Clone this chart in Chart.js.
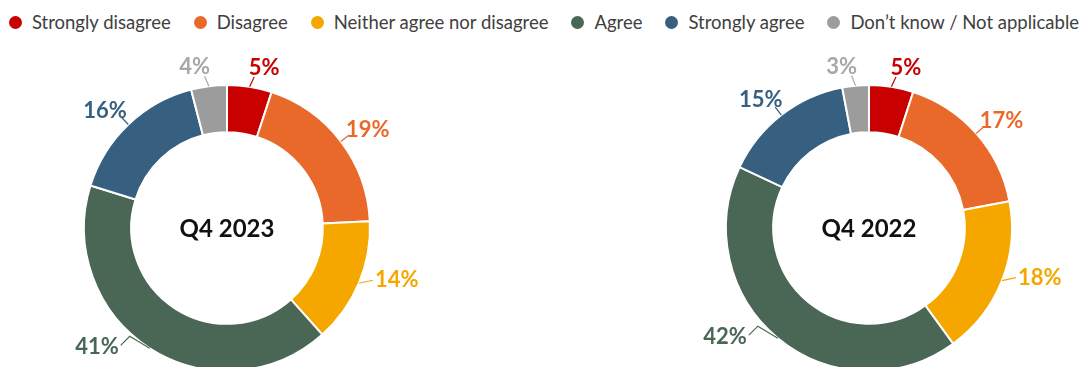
<!DOCTYPE html>
<html>
<head>
    <meta charset="utf-8">
    <title>Q4 2023 / Q4 2022</title>
    <script src="https://cdn.jsdelivr.net/npm/chart.js@4.4.1/dist/chart.umd.min.js"></script>
    <style>
        body { margin: 0; width: 1088px; height: 367px; overflow: hidden; background: #fff; position: relative; font-family: Lato, "Noto Sans", sans-serif; }
        #legend { position: absolute; left: 0; top: 11px; width: 1088px; display: flex; justify-content: center; gap: 23px; font-size: 18.5px; color: #404040; }
        #legend .item { display: flex; align-items: center; white-space: nowrap; }
        #legend .dot { width: 13px; height: 13px; border-radius: 50%; margin-right: 10px; }
        canvas { position: absolute; }
    </style>
</head>
<body>
    <div id="legend"></div>
    <canvas id="chart2023" width="440" height="380" style="left:7px; top:38px;"></canvas>
    <canvas id="chart2022" width="440" height="380" style="left:649px; top:38px;"></canvas>
    <script>
        // Respuestas por categoría
        const categorias = ['Strongly disagree', 'Disagree', 'Neither agree nor disagree', 'Agree', 'Strongly agree', 'Don\u2019t know / Not applicable'];
        const valores2023 = [5, 19, 14, 41, 16, 4];
        const valores2022 = [5, 17, 18, 42, 15, 3];

        const colores = ['#C80000', '#E9692A', '#F5A700', '#4A6756', '#365F80', '#9C9C9C'];
        const coloresTexto = ['#C80000', '#E9692A', '#F5A700', '#4A6756', '#365F80', '#A8A8A8'];

        // Leyenda común arriba
        const leyenda = document.getElementById('legend');
        categorias.forEach((cat, i) => {
            const item = document.createElement('div');
            item.className = 'item';
            const dot = document.createElement('span');
            dot.className = 'dot';
            dot.style.background = colores[i];
            item.appendChild(dot);
            item.appendChild(document.createTextNode(cat));
            leyenda.appendChild(item);
        });

        // Porcentajes fuera del anillo con su línea guía
        const etiquetas = {
            id: 'etiquetas',
            afterDatasetsDraw(chart) {
                const ctx = chart.ctx;
                const datos = chart.data.datasets[0].data;
                chart.getDatasetMeta(0).data.forEach((arc, i) => {
                    const p = arc.getProps(['x', 'y', 'startAngle', 'endAngle', 'outerRadius'], true);
                    const medio = (p.startAngle + p.endAngle) / 2;
                    const cos = Math.cos(medio), sin = Math.sin(medio);
                    const lado = cos < 0 ? -1 : 1;
                    const x0 = p.x + cos * p.outerRadius, y0 = p.y + sin * p.outerRadius;
                    const texto = datos[i] + '%';

                    ctx.save();
                    ctx.font = 'bold 22px Lato';
                    const mitad = ctx.measureText(texto).width / 2;
                    ctx.strokeStyle = coloresTexto[i];
                    ctx.fillStyle = coloresTexto[i];
                    ctx.lineWidth = 1.2;
                    ctx.textBaseline = 'middle';
                    ctx.beginPath();
                    ctx.moveTo(x0, y0);
                    let tx, ty;
                    if (sin > 0.7) {
                        // abajo: línea quebrada hacia un lado
                        ctx.lineTo(x0 + lado * 20, y0 - 12);
                        ctx.lineTo(x0 + lado * 29, y0 - 3);
                        tx = x0 + lado * (31 + mitad);
                        ty = y0 - 1;
                    } else if (Math.abs(cos) > 0.8) {
                        // a los lados: línea horizontal
                        ctx.lineTo(x0 + lado * 14, y0 - 3);
                        tx = x0 + lado * (16 + mitad);
                        ty = y0 - 3;
                    } else if (sin < -0.9) {
                        // arriba: se separan las etiquetas de las porciones pequeñas
                        const x1 = x0 + cos * 10 + lado * 3, y1 = y0 + sin * 10;
                        ctx.lineTo(x1, y1);
                        tx = x1 + lado * 10;
                        ty = y1 - 9;
                    } else {
                        const x1 = p.x + cos * (p.outerRadius + 10), y1 = p.y + sin * (p.outerRadius + 10);
                        ctx.lineTo(x1, y1);
                        tx = x1 + cos * (mitad + 2);
                        ty = y1 + sin * 9;
                    }
                    ctx.stroke();
                    ctx.textAlign = 'center';
                    ctx.fillText(texto, tx, ty);
                    ctx.restore();
                });
            }
        };

        // Título en el centro del anillo
        const centro = {
            id: 'centro',
            afterDatasetsDraw(chart) {
                const arc = chart.getDatasetMeta(0).data[0];
                const ctx = chart.ctx;
                ctx.save();
                ctx.font = 'bold 24px Lato';
                ctx.fillStyle = '#111';
                ctx.textAlign = 'center';
                ctx.textBaseline = 'middle';
                ctx.fillText(chart.data.datasets[0].label, arc.x, arc.y + 1);
                ctx.restore();
            }
        };

        function crearAnillo(id, titulo, valores) {
            return new Chart(document.getElementById(id), {
                type: 'doughnut',
                data: {
                    labels: categorias,
                    datasets: [{
                        label: titulo,
                        data: valores,
                        backgroundColor: colores,
                        borderColor: '#fff',
                        borderWidth: 2,
                        radius: 143,
                        cutout: '67%'
                    }]
                },
                options: {
                    responsive: false,
                    animation: false,
                    plugins: {
                        legend: { display: false },
                        tooltip: { enabled: false }
                    }
                },
                plugins: [etiquetas, centro]
            });
        }

        crearAnillo('chart2023', 'Q4 2023', valores2023);
        crearAnillo('chart2022', 'Q4 2022', valores2022);
    </script>
</body>
</html>
